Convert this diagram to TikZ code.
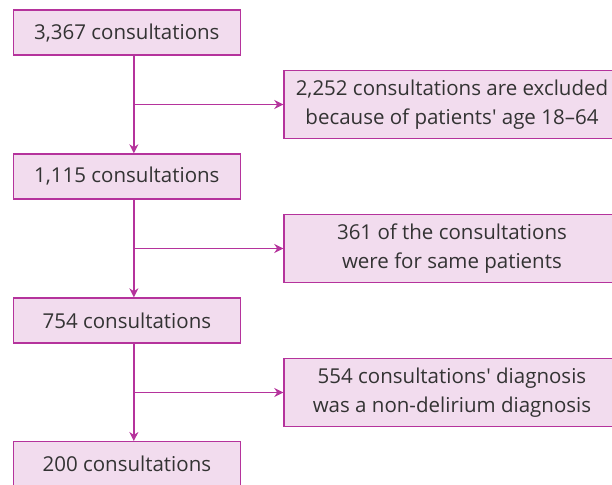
\documentclass[tikz,border=0pt]{standalone}
\usepackage{fontspec}
\newfontfamily\osfont{Open Sans}
\usetikzlibrary{arrows.meta}
\definecolor{boxfill}{HTML}{F2DCEE}
\definecolor{boxline}{HTML}{B5339C}
\definecolor{txt}{HTML}{333333}
\tikzset{
  box/.style={draw=boxline, fill=boxfill, line width=1.3pt, text=txt, inner sep=0pt, font=\osfont\fontsize{20.5}{29.5}\selectfont, align=center},
  conn/.style={draw=boxline, line width=1.5pt, -{Stealth[length=9pt,width=9pt]}}
}
\begin{document}
\begin{tikzpicture}[x=1pt,y=-1pt]
\useasboundingbox (0,0) rectangle (612,484);
\begin{scope}
\clip (0,0) rectangle (612,484);
\node[box, minimum width=227pt, minimum height=45pt, anchor=north west] (a) at (12.7,9.5) {3,367 consultations};
\node[box, minimum width=227pt, minimum height=45pt, anchor=north west] (b) at (12.7,153.3) {1,115 consultations};
\node[box, minimum width=227pt, minimum height=45pt, anchor=north west] (c) at (12.7,297.3) {754 consultations};
\node[box, minimum width=227pt, minimum height=50pt, anchor=north west] (d) at (12.7,441) {\raisebox{6pt}{200 consultations}};
\node[box, minimum width=336pt, minimum height=67.7pt, anchor=north west] (e) at (283.3,70) {2,252 consultations are excluded\\because of patients' age 18–64};
\node[box, minimum width=336pt, minimum height=67.7pt, anchor=north west] (f) at (283.3,214) {361 of the consultations\\were for same patients};
\node[box, minimum width=336pt, minimum height=67.7pt, anchor=north west] (g) at (283.3,358) {554 consultations' diagnosis\\was a non-delirium diagnosis};
\end{scope}
\coordinate (s1) at ([xshift=7pt]a.south);
\coordinate (s2) at ([xshift=7pt]b.south);
\coordinate (s3) at ([xshift=7pt]c.south);
\coordinate (j1) at (s1 |- e.west);
\coordinate (j2) at (s2 |- f.west);
\coordinate (j3) at (s3 |- g.west);
\draw[conn] (s1) -- (s1 |- b.north);
\draw[conn] (s2) -- (s2 |- c.north);
\draw[conn] (s3) -- (s3 |- d.north);
\draw[conn] (j1) -- (e.west);
\draw[conn] (j2) -- (f.west);
\draw[conn] (j3) -- (g.west);
\end{tikzpicture}
\end{document}
